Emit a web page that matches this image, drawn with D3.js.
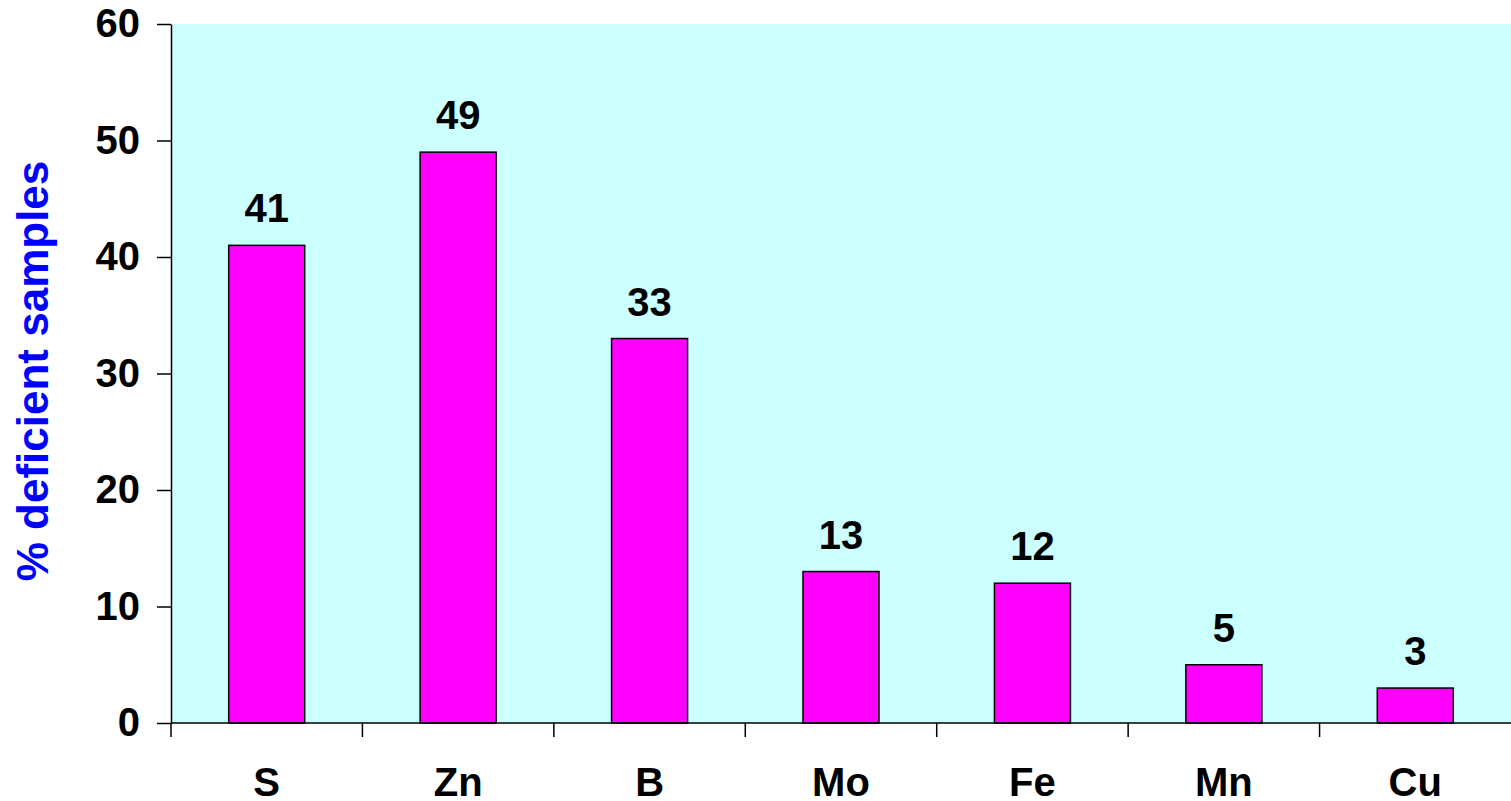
<!DOCTYPE html>
<html>
<head>
<meta charset="utf-8">
<script src="https://cdn.jsdelivr.net/npm/d3@7"></script>
<style>
    body { margin: 0; background: #fff; }
    svg { display: block; font-family: "Liberation Sans", Arial, sans-serif; font-weight: bold; }
</style>
</head>
<body>
<svg id="chart" width="1511" height="801"></svg>
<script>
// Data
let nutrients = ["S", "Zn", "B", "Mo", "Fe", "Mn", "Cu"];
let deficient = [41, 49, 33, 13, 12, 5, 3];
let yTicks = [0, 10, 20, 30, 40, 50, 60];

let margin = {top: 24, right: 0, bottom: 78, left: 171};
let width = 1511 - margin.left - margin.right;
let height = 801 - margin.top - margin.bottom;

let svg = d3.select("#chart");
let g = svg.append("g").attr("transform", `translate(${margin.left},${margin.top})`);

let x = d3.scaleBand().domain(nutrients).range([0, width]).paddingInner(0.603).paddingOuter(0.3015);
let y = d3.scaleLinear().domain([0, 60]).range([height, 0]);

// plot background
g.append("rect")
    .attr("x", 0).attr("y", 0)
    .attr("width", width).attr("height", height)
    .attr("fill", "#ccffff");

// bars
g.selectAll(".bar").data(nutrients).enter().append("rect")
    .attr("class", "bar")
    .attr("x", d => x(d))
    .attr("y", (d, i) => y(deficient[i]))
    .attr("width", x.bandwidth())
    .attr("height", (d, i) => height - y(deficient[i]))
    .attr("fill", "#ff00ff")
    .attr("stroke", "#000")
    .attr("stroke-width", 1.5);

// value labels
g.selectAll(".val").data(nutrients).enter().append("text")
    .attr("class", "val")
    .attr("x", d => x(d) + x.bandwidth() / 2)
    .attr("y", (d, i) => y(deficient[i]) - 23)
    .attr("text-anchor", "middle")
    .attr("font-size", 40)
    .attr("fill", "#000")
    .text((d, i) => deficient[i]);

// y axis
let yAxis = g.append("g")
    .call(d3.axisLeft(y).tickValues(yTicks).tickSize(14).tickPadding(17).tickSizeOuter(0));
yAxis.select(".domain").attr("stroke", "#000").attr("stroke-width", 1.5);
yAxis.selectAll(".tick line").attr("stroke", "#000").attr("stroke-width", 1.5);
yAxis.selectAll("text").attr("font-size", 40).attr("font-family", null).attr("font-weight", "bold").attr("fill", "#000");

// x axis: ticks on category boundaries
let xAxisG = g.append("g").attr("transform", `translate(0,${height})`);
xAxisG.append("line")
    .attr("x1", 0).attr("x2", width)
    .attr("stroke", "#000").attr("stroke-width", 1.5);
let bounds = d3.range(nutrients.length).map(i => i * x.step());
xAxisG.selectAll(".xtick").data(bounds).enter().append("line")
    .attr("class", "xtick")
    .attr("x1", d => d).attr("x2", d => d)
    .attr("y1", 0).attr("y2", 14)
    .attr("stroke", "#000").attr("stroke-width", 1.5);
xAxisG.selectAll(".xlab").data(nutrients).enter().append("text")
    .attr("class", "xlab")
    .attr("x", d => x(d) + x.bandwidth() / 2)
    .attr("y", 73)
    .attr("text-anchor", "middle")
    .attr("font-size", 40)
    .attr("fill", "#000")
    .text(d => d);

// y axis title
svg.append("text")
    .attr("transform", "translate(48,371) rotate(-90)")
    .attr("text-anchor", "middle")
    .attr("font-size", 44)
    .attr("fill", "#0000ff")
    .text("% deficient samples");
</script>
</body>
</html>
